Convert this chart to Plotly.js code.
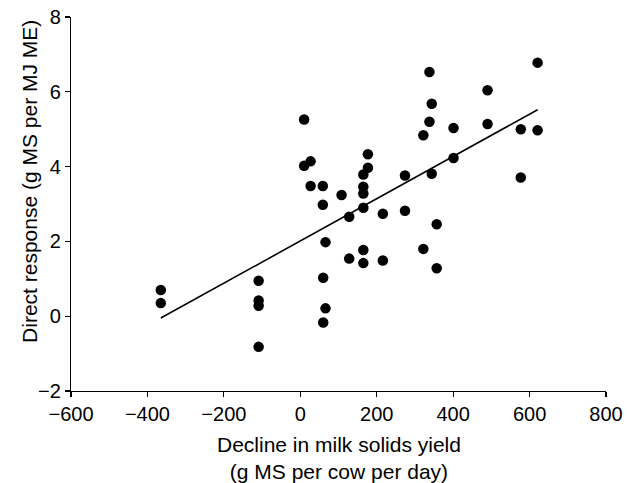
<!DOCTYPE html>
<html>
<head>
<meta charset="utf-8">
<script src="https://cdn.plot.ly/plotly-3.0.1.min.js"></script>
<style>html,body{margin:0;padding:0;background:#fff;}#chart{width:627px;height:483px;}</style>
</head>
<body>
<div id="chart"></div>
<script>
// Observed points: decline in milk solids yield (x) vs direct response (y)
const declineX = [-365, -365, -109, -109, -109, -109, 10, 10, 27, 27, 59, 59, 66, 60, 66, 60,
  108, 128, 128, 165, 165, 165, 165, 165, 165, 177, 177,
  338, 344, 338, 322, 401, 490, 490, 621, 577, 621, 577, 401, 344, 274, 216, 274, 357, 322, 216, 357];
const responseY = [0.70, 0.35, 0.95, 0.42, 0.28, -0.82, 5.26, 4.02, 4.14, 3.48, 3.48, 2.98, 1.98, 1.03, 0.21, -0.17,
  3.24, 2.66, 1.54, 1.77, 1.42, 2.90, 3.28, 3.46, 3.79, 3.97, 4.33,
  6.53, 5.68, 5.20, 4.84, 5.03, 6.04, 5.14, 6.78, 5.00, 4.97, 3.71, 4.23, 3.81, 3.76, 2.74, 2.82, 2.46, 1.80, 1.49, 1.28];
// Fitted regression line end points
const fitX = [-365, 621];
const fitY = [-0.05, 5.52];
const xTicks = [-600, -400, -200, 0, 200, 400, 600, 800];
const xTickText = ['\u2212600', '\u2212400', '\u2212200', '0', '200', '400', '600', '800'];
const yTicks = [-2, 0, 2, 4, 6, 8];
const yTickText = ['\u22122', '0', '2', '4', '6', '8'];

const font = {family: 'Liberation Sans, Arial, Helvetica, sans-serif', size: 20, color: '#000'};
const titleFont = {family: 'Liberation Sans, Arial, Helvetica, sans-serif', size: 21, color: '#000'};

const traces = [
  {x: fitX, y: fitY, mode: 'lines', type: 'scatter', line: {color: '#000', width: 1.6}, hoverinfo: 'skip'},
  {x: declineX, y: responseY, mode: 'markers', type: 'scatter', marker: {color: '#000', size: 10.5}}
];

const axisCommon = {
  showgrid: false, zeroline: false, showline: true, linecolor: '#000', linewidth: 1.2,
  ticks: 'outside', ticklen: 5, tickwidth: 1.2, tickcolor: '#000', tickfont: font, tickmode: 'array'
};

const layout = {
  width: 627, height: 483,
  margin: {l: 71, r: 21, t: 17, b: 92, pad: 0},
  paper_bgcolor: '#fff', plot_bgcolor: '#fff',
  showlegend: false,
  font: font,
  xaxis: Object.assign({}, axisCommon, {range: [-600, 800], tickvals: xTicks, ticktext: xTickText}),
  yaxis: Object.assign({}, axisCommon, {range: [-2, 8], tickvals: yTicks, ticktext: yTickText}),
  annotations: [
    {text: 'Decline in milk solids yield<br>(g MS per cow per day)', xref: 'paper', yref: 'paper',
     x: 0.5, y: 0, xanchor: 'center', yanchor: 'middle', yshift: -67, showarrow: false, font: titleFont},
    {text: 'Direct response (g MS per MJ ME)', xref: 'paper', yref: 'paper', textangle: -90,
     x: 0, y: 0.559, xanchor: 'center', yanchor: 'middle', xshift: -41, showarrow: false, font: titleFont}
  ]
};

Plotly.newPlot('chart', traces, layout, {displayModeBar: false, staticPlot: true});
</script>
</body>
</html>
